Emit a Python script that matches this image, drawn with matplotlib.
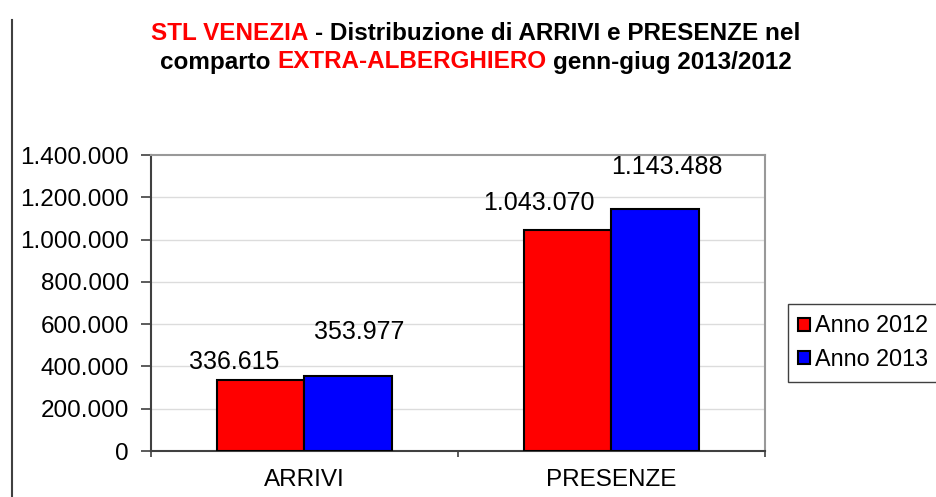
import numpy as np
import matplotlib
matplotlib.use("Agg")
import matplotlib.pyplot as plt
from matplotlib.lines import Line2D

plt.rcParams['font.family'] = ['Liberation Sans', 'DejaVu Sans']

# Dati
categorie = ["ARRIVI", "PRESENZE"]
anno_2012 = [336615, 1043070]
anno_2013 = [353977, 1143488]
serie_nomi = ["Anno 2012", "Anno 2013"]
y_ticks = [0, 200000, 400000, 600000, 800000, 1000000, 1200000, 1400000]


def fmt(v):
    return f"{int(v):,}".replace(",", ".")


W, H = 937, 497
fig = plt.figure(figsize=(W / 100, H / 100), dpi=100)
ax = fig.add_axes([151 / W, 1 - 451 / H, (765 - 151) / W, (451 - 155) / H])

x = np.arange(len(categorie))
w = 0.285
b1 = ax.bar(x - w / 2, anno_2012, w, color="#ff0000", edgecolor="black", linewidth=1.5,
            label=serie_nomi[0], zorder=3)
b2 = ax.bar(x + w / 2, anno_2013, w, color="#0000ff", edgecolor="black", linewidth=1.5,
            label=serie_nomi[1], zorder=3)

# etichette dei valori (spostate come nell'originale)
offsets_2012 = [(-27, 18), (-29, 27)]
offsets_2013 = [(11, 44), (12, 42)]
for bars, offs in [(b1, offsets_2012), (b2, offsets_2013)]:
    for rect, (dx, dy) in zip(bars, offs):
        ax.annotate(fmt(rect.get_height()),
                    (rect.get_x() + rect.get_width() / 2, rect.get_height()),
                    xytext=(dx, dy), textcoords="offset pixels",
                    ha="center", va="center", fontsize=18)

ax.set_xlim(-0.5, len(categorie) - 0.5)
ax.set_ylim(0, 1400000)
ax.set_yticks(y_ticks)
ax.set_yticklabels([fmt(v) for v in y_ticks])
ax.set_xticks(x)
ax.set_xticklabels(categorie)
ax.set_xticks(np.arange(-0.5, len(categorie)), minor=True)
ax.tick_params(axis="y", labelsize=17.5, length=7, width=1.2, color="#404040", pad=9)
ax.tick_params(axis="x", which="major", labelsize=17.5, length=0, pad=13)
ax.tick_params(axis="x", which="minor", length=4.5, width=1.2, color="#404040")

for v in y_ticks[1:-1]:
    ax.axhline(v, color="#dcdcdc", lw=1, zorder=1)

ax.spines["left"].set_color("#404040")
ax.spines["bottom"].set_color("#404040")
ax.spines["left"].set_linewidth(1.5)
ax.spines["bottom"].set_linewidth(1.5)
for s in ["top", "right"]:
    ax.spines[s].set_color("#999999")
    ax.spines[s].set_linewidth(1.5)

leg = ax.legend(loc="upper left", bbox_to_anchor=(788 / W, 1 - 304 / H),
                bbox_transform=fig.transFigure, borderaxespad=0, fancybox=False,
                edgecolor="#404040", fontsize=16.8, handlelength=0.5, handleheight=0.5,
                handletextpad=0.2, labelspacing=0.45, borderpad=0.45, framealpha=1)
leg.get_frame().set_linewidth(1)
for p in leg.get_patches():
    p.set_edgecolor("black")

# linea verticale a sinistra
fig.add_artist(Line2D([12 / W, 12 / W], [0, 1 - 20 / H], transform=fig.transFigure,
                      color="#404040", lw=1.5))

# titolo a due colori
renderer = fig.canvas.get_renderer()


def riga_titolo(parti, y_px, size=17.5, cx=476):
    gap = size * 100 / 72 * 0.28
    texts = [fig.text(0, 1 - y_px / H, s, color=c, fontsize=size, fontweight="bold",
                      ha="left", va="center") for s, c in parti]
    widths = [t.get_window_extent(renderer).width for t in texts]
    total = sum(widths) + gap * (len(parti) - 1)
    xp = cx - total / 2
    for t, wd in zip(texts, widths):
        t.set_x(xp / W)
        xp += wd + gap


riga_titolo([("STL VENEZIA", "#ff0000"),
             ("- Distribuzione di ARRIVI e PRESENZE nel", "black")], 33)
riga_titolo([("comparto", "black"), ("EXTRA-ALBERGHIERO", "#ff0000"),
             ("genn-giug 2013/2012", "black")], 62)

fig.savefig("out.png", dpi=100)
